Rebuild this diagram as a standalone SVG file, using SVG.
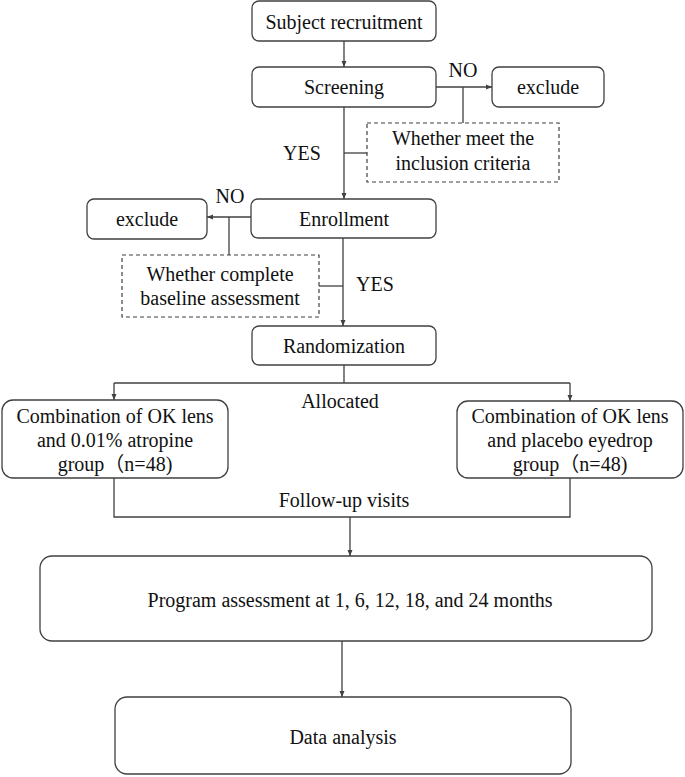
<svg xmlns="http://www.w3.org/2000/svg" width="685" height="777" viewBox="0 0 685 777">
<defs>
<style>
.box{fill:#fff;stroke:#404040;stroke-width:1.3}
.dash{fill:#fff;stroke:#404040;stroke-width:1.2;stroke-dasharray:4 3}
.ln{fill:none;stroke:#404040;stroke-width:1.3}
.arr{fill:none;stroke:#404040;stroke-width:1.3;marker-end:url(#ah)}
text{font-family:"Liberation Serif","Times New Roman","Noto Sans CJK SC",serif;font-size:20px;fill:#111;text-anchor:middle}
</style>
<marker id="ah" markerUnits="userSpaceOnUse" markerWidth="6" markerHeight="6" refX="6" refY="3" orient="auto">
<path d="M0,0.5 L6,3 L0,5.5 z" fill="#404040"/>
</marker>
</defs>
<g id="connectors">
<line class="arr" x1="344" y1="41" x2="344" y2="67"/>
<line class="arr" x1="436" y1="87" x2="492" y2="87"/>
<line class="ln" x1="463" y1="87" x2="463" y2="123"/>
<line class="arr" x1="344" y1="107" x2="344" y2="199"/>
<line class="ln" x1="344" y1="153" x2="367" y2="153"/>
<line class="arr" x1="251" y1="217" x2="207" y2="217"/>
<line class="ln" x1="229" y1="217" x2="229" y2="255"/>
<line class="arr" x1="343" y1="238" x2="343" y2="326"/>
<line class="ln" x1="319" y1="286" x2="343" y2="286"/>
<polyline class="ln" points="344,365 344,383"/>
<line class="ln" x1="114" y1="383" x2="570" y2="383"/>
<line class="arr" x1="114" y1="383" x2="114" y2="400"/>
<line class="arr" x1="570" y1="383" x2="570" y2="401"/>
<polyline class="ln" points="114,478 114,517 570,517 570,478"/>
<line class="arr" x1="350" y1="517" x2="350" y2="556"/>
<line class="arr" x1="342" y1="641" x2="342" y2="697"/>
<text x="463" y="77">NO</text>
<text x="302" y="160">YES</text>
<text x="230" y="203">NO</text>
<text x="375" y="291">YES</text>
<text x="340" y="408">Allocated</text>
<text x="344" y="507">Follow-up visits</text>
</g>
<g id="recruitment">
<rect class="box" x="252" y="1" width="184" height="40" rx="7"/>
<text x="344" y="29">Subject recruitment</text>
</g>
<g id="screening">
<rect class="box" x="252" y="67" width="184" height="40" rx="7"/>
<text x="344" y="94">Screening</text>
</g>
<g id="exclude1">
<rect class="box" x="492" y="67" width="112" height="40" rx="7"/>
<text x="548" y="94">exclude</text>
</g>
<g id="criteria1">
<rect class="dash" x="367" y="123" width="192" height="59"/>
<text x="463" y="145">Whether meet the</text>
<text x="463" y="170">inclusion criteria</text>
</g>
<g id="enrollment">
<rect class="box" x="251" y="199" width="185" height="39" rx="7"/>
<text x="344" y="226">Enrollment</text>
</g>
<g id="exclude2">
<rect class="box" x="87" y="199" width="120" height="40" rx="7"/>
<text x="147" y="226">exclude</text>
</g>
<g id="criteria2">
<rect class="dash" x="122" y="255" width="197" height="62"/>
<text x="220" y="281">Whether complete</text>
<text x="220" y="305">baseline assessment</text>
</g>
<g id="randomization">
<rect class="box" x="252" y="326" width="184" height="39" rx="7"/>
<text x="344" y="353">Randomization</text>
</g>
<g id="groupA">
<rect class="box" x="2" y="400" width="226" height="78" rx="11"/>
<text x="115" y="423">Combination of OK lens</text>
<text x="115" y="447">and 0.01% atropine</text>
<text x="115" y="471">group（n=48)</text>
</g>
<g id="groupB">
<rect class="box" x="457" y="401" width="226" height="77" rx="11"/>
<text x="570" y="423">Combination of OK lens</text>
<text x="570" y="447">and placebo eyedrop</text>
<text x="570" y="471">group（n=48)</text>
</g>
<g id="program">
<rect class="box" x="40" y="556" width="612" height="85" rx="12"/>
<text x="350" y="607">Program assessment at 1, 6, 12, 18, and 24 months</text>
</g>
<g id="analysis">
<rect class="box" x="115" y="697" width="456" height="77" rx="12"/>
<text x="343" y="744">Data analysis</text>
</g>
</svg>
